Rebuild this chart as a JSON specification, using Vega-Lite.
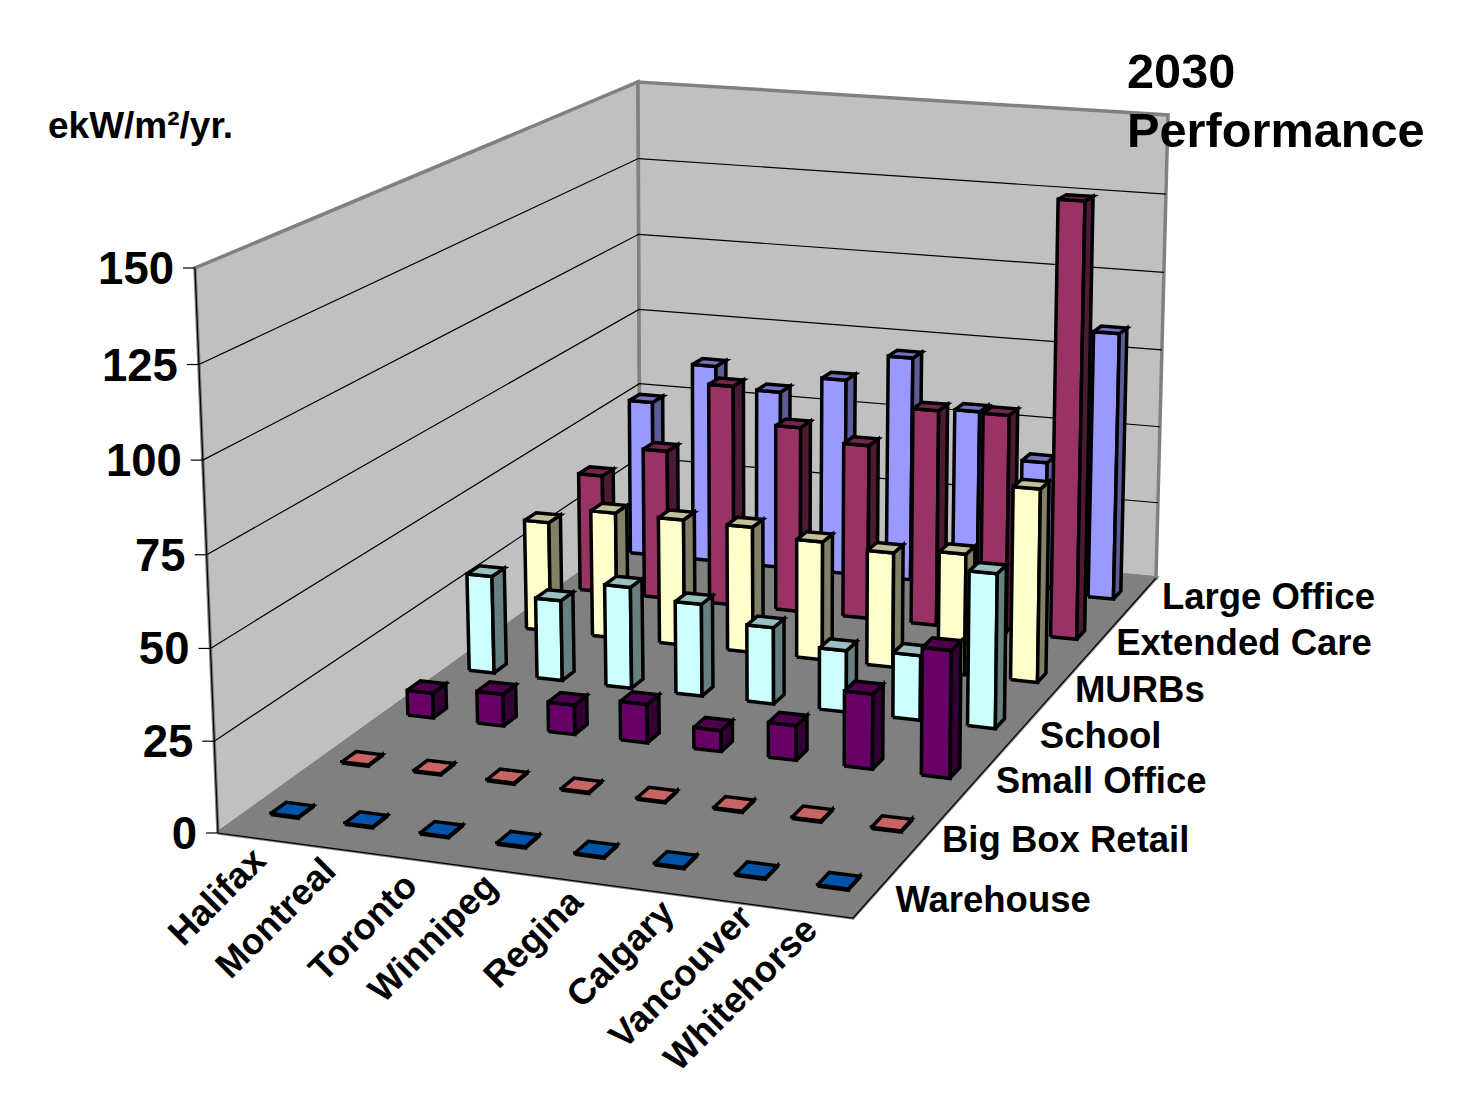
{
  "$schema": "https://vega.github.io/schema/vega-lite/v6.json",
  "width": 1473,
  "height": 1102,
  "autosize": {"type": "none"},
  "padding": 0,
  "background": "#ffffff",
  "config": {"view": {"stroke": null}, "text": {"font": "Liberation Sans", "fontWeight": "bold", "fill": "#000000"}},
  "resolve": {"scale": {"fill": "independent"}},
  "encoding": {
    "x": {"field": "sx", "type": "quantitative", "axis": null, "scale": {"domain": [0, 1473], "range": [0, 1473], "nice": false, "zero": false}},
    "y": {"field": "sy", "type": "quantitative", "axis": null, "scale": {"domain": [0, 1102], "range": [0, 1102], "nice": false, "zero": false}}
  },
  "layer": [
    {
      "data": {"values": [
        {"part": "Left wall", "o": 0, "X": 0, "Y": 0, "Z": 0},
        {"part": "Left wall", "o": 1, "X": 0, "Y": 1, "Z": 0},
        {"part": "Left wall", "o": 2, "X": 0, "Y": 1, "Z": 1},
        {"part": "Left wall", "o": 3, "X": 0, "Y": 0, "Z": 1},
        {"part": "Left wall", "o": 4, "X": 0, "Y": 0, "Z": 0},
        {"part": "Back wall", "o": 0, "X": 0, "Y": 1, "Z": 0},
        {"part": "Back wall", "o": 1, "X": 1, "Y": 1, "Z": 0},
        {"part": "Back wall", "o": 2, "X": 1, "Y": 1, "Z": 1},
        {"part": "Back wall", "o": 3, "X": 0, "Y": 1, "Z": 1},
        {"part": "Back wall", "o": 4, "X": 0, "Y": 1, "Z": 0},
        {"part": "Floor", "o": 0, "X": 0, "Y": 0, "Z": 0},
        {"part": "Floor", "o": 1, "X": 1, "Y": 0, "Z": 0},
        {"part": "Floor", "o": 2, "X": 1, "Y": 1, "Z": 0},
        {"part": "Floor", "o": 3, "X": 0, "Y": 1, "Z": 0},
        {"part": "Floor", "o": 4, "X": 0, "Y": 0, "Z": 0}
      ]},
      "transform": [
        {"calculate": "1 - 0.07043*datum.X + 0.27197*datum.Y", "as": "w"},
        {"calculate": "(574.92*datum.X + 596.06*datum.Y + 218)/datum.w", "as": "fx"},
        {"calculate": "(20.35*datum.X - 158.86*datum.Y + 833)/datum.w", "as": "fy"},
        {"calculate": "565*(1-datum.X)*(1-datum.Y) + 620*datum.X*(1-datum.Y) + 448*(1-datum.X)*datum.Y + 463*datum.X*datum.Y", "as": "rise"},
        {"calculate": "-23*(1-datum.X)*(1-datum.Y) + 3*datum.X*(1-datum.Y) - 2*(1-datum.X)*datum.Y + 12*datum.X*datum.Y", "as": "lean"},
        {"calculate": "datum.Z - 0.03*datum.Z*(1-datum.Z)", "as": "Zp"},
        {"calculate": "datum.fx + datum.Zp*datum.lean", "as": "sx"},
        {"calculate": "datum.fy - datum.Zp*datum.rise", "as": "sy"}
      ],
      "mark": {"type": "line", "strokeWidth": 3.5, "strokeJoin": "miter", "stroke": "#808080"},
      "encoding": {
        "order": {"field": "o", "type": "quantitative"},
        "detail": {"field": "part"},
        "fill": {"field": "part", "type": "nominal", "legend": null, "scale": {"domain": ["Left wall", "Back wall", "Floor"], "range": ["#c0c0c0", "#c0c0c0", "#808080"]}}
      }
    },
    {
      "data": {"values": [{"tick": 25}, {"tick": 50}, {"tick": 75}, {"tick": 100}, {"tick": 125}]},
      "transform": [
        {"calculate": "[{o:0,X:0,Y:0},{o:1,X:0,Y:1},{o:2,X:1,Y:1}]", "as": "corner"},
        {"flatten": ["corner"]},
        {"calculate": "datum.corner.X", "as": "X"},
        {"calculate": "datum.corner.Y", "as": "Y"},
        {"calculate": "datum.corner.o", "as": "o"},
        {"calculate": "datum.tick/150", "as": "Z"},
        {"calculate": "1 - 0.07043*datum.X + 0.27197*datum.Y", "as": "w"},
        {"calculate": "(574.92*datum.X + 596.06*datum.Y + 218)/datum.w", "as": "fx"},
        {"calculate": "(20.35*datum.X - 158.86*datum.Y + 833)/datum.w", "as": "fy"},
        {"calculate": "565*(1-datum.X)*(1-datum.Y) + 620*datum.X*(1-datum.Y) + 448*(1-datum.X)*datum.Y + 463*datum.X*datum.Y", "as": "rise"},
        {"calculate": "-23*(1-datum.X)*(1-datum.Y) + 3*datum.X*(1-datum.Y) - 2*(1-datum.X)*datum.Y + 12*datum.X*datum.Y", "as": "lean"},
        {"calculate": "datum.Z - 0.03*datum.Z*(1-datum.Z)", "as": "Zp"},
        {"calculate": "datum.fx + datum.Zp*datum.lean", "as": "sx"},
        {"calculate": "datum.fy - datum.Zp*datum.rise", "as": "sy"}
      ],
      "mark": {"type": "line", "strokeWidth": 1.2, "stroke": "#000000"},
      "encoding": {
        "order": {"field": "o", "type": "quantitative"},
        "detail": {"field": "tick"}
      }
    },
    {
      "data": {"values": [{"edge": "Upright", "o": 0, "X": 0, "Y": 0, "Z": 1}, {"edge": "Upright", "o": 1, "X": 0, "Y": 0, "Z": 0}, {"edge": "Upright", "o": 2, "X": 1, "Y": 0, "Z": 0}, {"edge": "Upright", "o": 3, "X": 1, "Y": 1, "Z": 0}]},
      "transform": [
        {"calculate": "1 - 0.07043*datum.X + 0.27197*datum.Y", "as": "w"},
        {"calculate": "(574.92*datum.X + 596.06*datum.Y + 218)/datum.w", "as": "fx"},
        {"calculate": "(20.35*datum.X - 158.86*datum.Y + 833)/datum.w", "as": "fy"},
        {"calculate": "565*(1-datum.X)*(1-datum.Y) + 620*datum.X*(1-datum.Y) + 448*(1-datum.X)*datum.Y + 463*datum.X*datum.Y", "as": "rise"},
        {"calculate": "-23*(1-datum.X)*(1-datum.Y) + 3*datum.X*(1-datum.Y) - 2*(1-datum.X)*datum.Y + 12*datum.X*datum.Y", "as": "lean"},
        {"calculate": "datum.fx + datum.Z*datum.lean", "as": "sx"},
        {"calculate": "datum.fy - datum.Z*datum.rise", "as": "sy"}
      ],
      "mark": {"type": "line", "strokeWidth": 1.2, "stroke": "#000000"},
      "encoding": {"order": {"field": "o", "type": "quantitative"}}
    },
    {
      "data": {"values": [
        {"building": "Large Office", "city": "Halifax", "value": 50.8},
        {"building": "Large Office", "city": "Montreal", "value": 64.3},
        {"building": "Large Office", "city": "Toronto", "value": 57.6},
        {"building": "Large Office", "city": "Winnipeg", "value": 63.2},
        {"building": "Large Office", "city": "Regina", "value": 72},
        {"building": "Large Office", "city": "Calgary", "value": 56.5},
        {"building": "Large Office", "city": "Vancouver", "value": 42},
        {"building": "Large Office", "city": "Whitehorse", "value": 84.8},
        {"building": "Extended Care", "city": "Halifax", "value": 37.3},
        {"building": "Extended Care", "city": "Montreal", "value": 46.9},
        {"building": "Extended Care", "city": "Toronto", "value": 69},
        {"building": "Extended Care", "city": "Winnipeg", "value": 57.8},
        {"building": "Extended Care", "city": "Regina", "value": 54},
        {"building": "Extended Care", "city": "Calgary", "value": 66.5},
        {"building": "Extended Care", "city": "Vancouver", "value": 66.8},
        {"building": "Extended Care", "city": "Whitehorse", "value": 132.5},
        {"building": "MURBs", "city": "Halifax", "value": 33.7},
        {"building": "MURBs", "city": "Montreal", "value": 38.5},
        {"building": "MURBs", "city": "Toronto", "value": 38.3},
        {"building": "MURBs", "city": "Winnipeg", "value": 38},
        {"building": "MURBs", "city": "Regina", "value": 35.5},
        {"building": "MURBs", "city": "Calgary", "value": 34.2},
        {"building": "MURBs", "city": "Vancouver", "value": 35.8},
        {"building": "MURBs", "city": "Whitehorse", "value": 56.8},
        {"building": "School", "city": "Halifax", "value": 29},
        {"building": "School", "city": "Montreal", "value": 23.8},
        {"building": "School", "city": "Toronto", "value": 29.8},
        {"building": "School", "city": "Winnipeg", "value": 26.9},
        {"building": "School", "city": "Regina", "value": 22.2},
        {"building": "School", "city": "Calgary", "value": 17.7},
        {"building": "School", "city": "Vancouver", "value": 18.5},
        {"building": "School", "city": "Whitehorse", "value": 43.8},
        {"building": "Small Office", "city": "Halifax", "value": 7.2},
        {"building": "Small Office", "city": "Montreal", "value": 9.2},
        {"building": "Small Office", "city": "Toronto", "value": 8.4},
        {"building": "Small Office", "city": "Winnipeg", "value": 10.9},
        {"building": "Small Office", "city": "Regina", "value": 5.9},
        {"building": "Small Office", "city": "Calgary", "value": 9.7},
        {"building": "Small Office", "city": "Vancouver", "value": 20.7},
        {"building": "Small Office", "city": "Whitehorse", "value": 34.8},
        {"building": "Big Box Retail", "city": "Halifax", "value": 0.3},
        {"building": "Big Box Retail", "city": "Montreal", "value": 0.3},
        {"building": "Big Box Retail", "city": "Toronto", "value": 0.3},
        {"building": "Big Box Retail", "city": "Winnipeg", "value": 0.3},
        {"building": "Big Box Retail", "city": "Regina", "value": 0.3},
        {"building": "Big Box Retail", "city": "Calgary", "value": 0.3},
        {"building": "Big Box Retail", "city": "Vancouver", "value": 0.3},
        {"building": "Big Box Retail", "city": "Whitehorse", "value": 0.3},
        {"building": "Warehouse", "city": "Halifax", "value": 0.3},
        {"building": "Warehouse", "city": "Montreal", "value": 0.3},
        {"building": "Warehouse", "city": "Toronto", "value": 0.3},
        {"building": "Warehouse", "city": "Winnipeg", "value": 0.3},
        {"building": "Warehouse", "city": "Regina", "value": 0.3},
        {"building": "Warehouse", "city": "Calgary", "value": 0.3},
        {"building": "Warehouse", "city": "Vancouver", "value": 0.3},
        {"building": "Warehouse", "city": "Whitehorse", "value": 0.3}
      ]},
      "transform": [
        {"calculate": "indexof(['Halifax','Montreal','Toronto','Winnipeg','Regina','Calgary','Vancouver','Whitehorse'], datum.city)", "as": "i"},
        {"calculate": "indexof(['Warehouse','Big Box Retail','Small Office','School','MURBs','Extended Care','Large Office'], datum.building)", "as": "j"},
        {"calculate": "[{f:'front',o:0,a:-1,b:-1,c:0},{f:'front',o:1,a:1,b:-1,c:0},{f:'front',o:2,a:1,b:-1,c:1},{f:'front',o:3,a:-1,b:-1,c:1},{f:'front',o:4,a:-1,b:-1,c:0},{f:'side',o:0,a:1,b:-1,c:0},{f:'side',o:1,a:1,b:1,c:0},{f:'side',o:2,a:1,b:1,c:1},{f:'side',o:3,a:1,b:-1,c:1},{f:'side',o:4,a:1,b:-1,c:0},{f:'top',o:0,a:-1,b:-1,c:1},{f:'top',o:1,a:1,b:-1,c:1},{f:'top',o:2,a:1,b:1,c:1},{f:'top',o:3,a:-1,b:1,c:1},{f:'top',o:4,a:-1,b:-1,c:1}]", "as": "vertex"},
        {"flatten": ["vertex"]},
        {"calculate": "datum.vertex.o", "as": "o"},
        {"calculate": "datum.building + ' ' + datum.vertex.f", "as": "shade"},
        {"calculate": "datum.city + ' ' + datum.shade", "as": "faceId"},
        {"calculate": "(datum.i + 0.5)/8 + datum.vertex.a*0.023", "as": "X"},
        {"calculate": "(datum.j + 0.5)/7 + datum.vertex.b*0.015", "as": "Y"},
        {"calculate": "datum.vertex.c*datum.value/150", "as": "Z"},
        {"calculate": "1 - 0.07043*datum.X + 0.27197*datum.Y", "as": "w"},
        {"calculate": "(574.92*datum.X + 596.06*datum.Y + 218)/datum.w", "as": "fx"},
        {"calculate": "(20.35*datum.X - 158.86*datum.Y + 833)/datum.w", "as": "fy"},
        {"calculate": "565*(1-datum.X)*(1-datum.Y) + 620*datum.X*(1-datum.Y) + 448*(1-datum.X)*datum.Y + 463*datum.X*datum.Y", "as": "rise"},
        {"calculate": "-23*(1-datum.X)*(1-datum.Y) + 3*datum.X*(1-datum.Y) - 2*(1-datum.X)*datum.Y + 12*datum.X*datum.Y", "as": "lean"},
        {"calculate": "datum.Z - 0.03*datum.Z*(1-datum.Z)", "as": "Zp"},
        {"calculate": "datum.fx + datum.Zp*datum.lean", "as": "sx"},
        {"calculate": "datum.fy - datum.Zp*datum.rise", "as": "sy"}
      ],
      "mark": {"type": "line", "strokeWidth": 3.5, "strokeJoin": "miter", "stroke": "#000000"},
      "encoding": {
        "order": {"field": "o", "type": "quantitative"},
        "detail": {"field": "faceId"},
        "fill": {
          "field": "shade", "type": "nominal", "legend": null,
          "scale": {
            "domain": [
              "Large Office front", "Large Office side", "Large Office top",
              "Extended Care front", "Extended Care side", "Extended Care top",
              "MURBs front", "MURBs side", "MURBs top",
              "School front", "School side", "School top",
              "Small Office front", "Small Office side", "Small Office top",
              "Big Box Retail front", "Big Box Retail side", "Big Box Retail top",
              "Warehouse front", "Warehouse side", "Warehouse top"
            ],
            "range": [
              "#9999ff", "#5c5c99", "#7373c0",
              "#993366", "#4d1a33", "#73264d",
              "#ffffcc", "#808066", "#c0c099",
              "#ccffff", "#668080", "#99c0c0",
              "#660066", "#330033", "#4d004d",
              "#ff8080", "#804040", "#c86464",
              "#0066cc", "#003366", "#0055aa"
            ]
          }
        }
      }
    },
    {
      "data": {"values": [{"tick": 0}, {"tick": 25}, {"tick": 50}, {"tick": 75}, {"tick": 100}, {"tick": 125}, {"tick": 150}]},
      "transform": [
        {"calculate": "datum.tick/150", "as": "Z"},
        {"calculate": "datum.Z - 0.03*datum.Z*(1-datum.Z)", "as": "Zp"},
        {"calculate": "218 - 23*datum.Zp - 12", "as": "sx"},
        {"calculate": "218 - 23*datum.Zp", "as": "sx2"},
        {"calculate": "833 - 565*datum.Zp", "as": "sy"}
      ],
      "mark": {"type": "rule", "stroke": "#000000", "strokeWidth": 1.2},
      "encoding": {"x2": {"field": "sx2"}}
    },
    {
      "data": {"values": [{"tick": 0}, {"tick": 25}, {"tick": 50}, {"tick": 75}, {"tick": 100}, {"tick": 125}, {"tick": 150}]},
      "transform": [
        {"calculate": "datum.tick/150", "as": "Z"},
        {"calculate": "datum.Z - 0.03*datum.Z*(1-datum.Z)", "as": "Zp"},
        {"calculate": "218 - 23*datum.Zp - 21", "as": "sx"},
        {"calculate": "833 - 565*datum.Zp + 2", "as": "sy"}
      ],
      "mark": {"type": "text", "align": "right", "baseline": "middle", "fontSize": 45.5},
      "encoding": {"text": {"field": "tick", "type": "nominal"}}
    },
    {
      "data": {"values": [
        {"city": "Halifax"}, {"city": "Montreal"}, {"city": "Toronto"}, {"city": "Winnipeg"},
        {"city": "Regina"}, {"city": "Calgary"}, {"city": "Vancouver"}, {"city": "Whitehorse"}
      ]},
      "transform": [
        {"calculate": "(indexof(['Halifax','Montreal','Toronto','Winnipeg','Regina','Calgary','Vancouver','Whitehorse'], datum.city) + 0.5)/8", "as": "X"},
        {"calculate": "1 - 0.07043*datum.X", "as": "w"},
        {"calculate": "{'Halifax':[5,17],'Montreal':[0,17],'Toronto':[5,22],'Winnipeg':[7,12],'Regina':[13,17],'Calgary':[24,17],'Vancouver':[20,11],'Whitehorse':[1,12]}[datum.city]", "as": "nudge"},
        {"calculate": "(574.92*datum.X + 218)/datum.w + datum.nudge[0]", "as": "sx"},
        {"calculate": "(20.35*datum.X + 833)/datum.w + datum.nudge[1]", "as": "sy"}
      ],
      "mark": {"type": "text", "align": "right", "baseline": "middle", "angle": 315, "fontSize": 36.5},
      "encoding": {"text": {"field": "city"}}
    },
    {
      "data": {"values": [
        {"building": "Warehouse"}, {"building": "Big Box Retail"}, {"building": "Small Office"}, {"building": "School"},
        {"building": "MURBs"}, {"building": "Extended Care"}, {"building": "Large Office"}
      ]},
      "transform": [
        {"calculate": "(indexof(['Warehouse','Big Box Retail','Small Office','School','MURBs','Extended Care','Large Office'], datum.building) + 0.5)/7", "as": "Y"},
        {"calculate": "1 - 0.07043 + 0.27197*datum.Y", "as": "w"},
        {"calculate": "{'Warehouse':[15,14],'Big Box Retail':[10,12],'Small Office':[16,6],'School':[16,10.5],'MURBs':[10,11],'Extended Care':[13,7],'Large Office':[23,1]}[datum.building]", "as": "nudge"},
        {"calculate": "(574.92 + 596.06*datum.Y + 218)/datum.w + datum.nudge[0]", "as": "sx"},
        {"calculate": "(20.35 - 158.86*datum.Y + 833)/datum.w + datum.nudge[1]", "as": "sy"}
      ],
      "mark": {"type": "text", "align": "left", "baseline": "middle", "fontSize": 36.5},
      "encoding": {"text": {"field": "building"}}
    },
    {
      "data": {"values": [{"note": "ekW/m²/yr."}]},
      "transform": [
        {"calculate": "195 - 147", "as": "sx"},
        {"calculate": "268 - 130", "as": "sy"}
      ],
      "mark": {"type": "text", "align": "left", "baseline": "alphabetic", "fontSize": 37},
      "encoding": {"text": {"field": "note"}}
    },
    {
      "data": {"values": [{"note": "2030"}, {"note": "Performance"}]},
      "transform": [
        {"calculate": "1168 - 41", "as": "sx"},
        {"calculate": "datum.note === '2030' ? 115 - 27 : 115 + 32", "as": "sy"}
      ],
      "mark": {"type": "text", "align": "left", "baseline": "alphabetic", "fontSize": 48.7},
      "encoding": {"text": {"field": "note"}}
    }
  ]
}
